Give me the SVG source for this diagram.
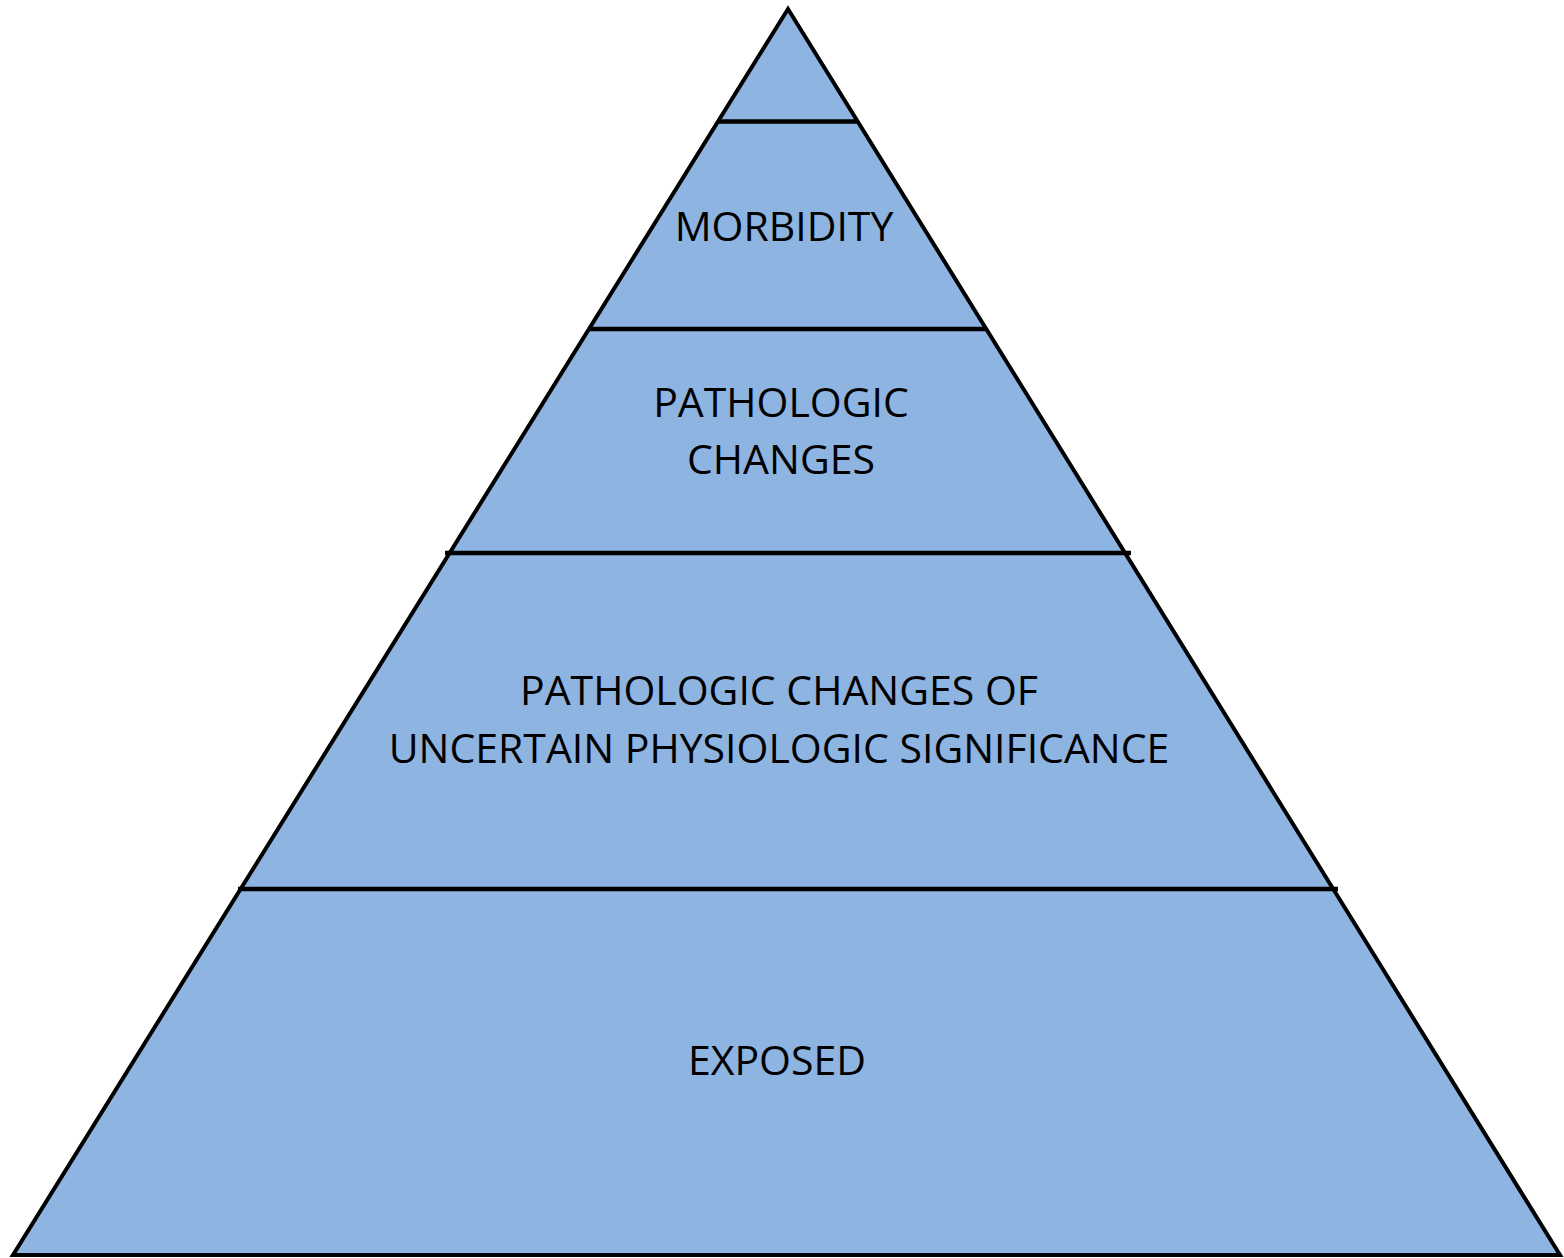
<svg xmlns="http://www.w3.org/2000/svg" width="1564" height="1258" viewBox="0 0 1564 1258">
<style>
.t{font-family:"Open Sans","Liberation Sans",sans-serif;font-size:41px;fill:#000;text-anchor:middle}
.l{stroke:#000;stroke-width:4.5;fill:none}
</style>
<rect width="1564" height="1258" fill="#fff"/>
<g id="pyramid">
<polygon points="788,9 1560,1255 13,1255" fill="#8EB4E2" stroke="#000" stroke-width="4" stroke-linejoin="miter"/>
</g>
<g id="connectors">
<line class="l" x1="718" y1="121.5" x2="857" y2="121.5"/>
<line class="l" x1="590" y1="329" x2="987" y2="329"/>
<line class="l" x1="445" y1="553" x2="1131" y2="553"/>
<line class="l" x1="238" y1="889" x2="1338" y2="889"/>
</g>
<g id="morbidity"><text class="t" x="784" y="241">MORBIDITY</text></g>
<g id="pathologic"><text class="t" x="781" y="417">PATHOLOGIC</text><text class="t" x="781" y="474">CHANGES</text></g>
<g id="uncertain"><text class="t" x="779" y="705">PATHOLOGIC CHANGES OF</text><text class="t" x="779" y="763">UNCERTAIN PHYSIOLOGIC SIGNIFICANCE</text></g>
<g id="exposed"><text class="t" x="777" y="1075">EXPOSED</text></g>
</svg>
